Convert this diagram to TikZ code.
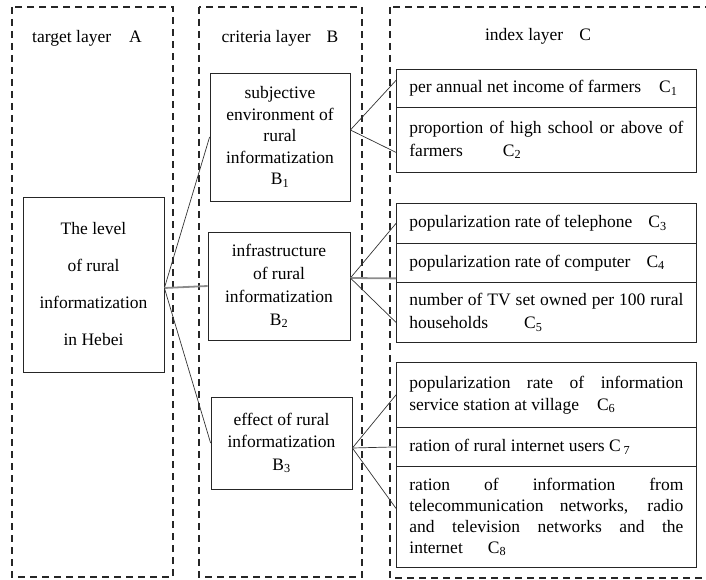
\documentclass[tikz,border=0pt]{standalone}
\usepackage{fontspec}
\setmainfont{Liberation Serif}
\begin{document}
\begin{tikzpicture}[x=1pt,y=-1pt,
  layer/.style={draw=black!85, dash pattern=on 7pt off 5pt, line width=1.3pt},
  cell/.style={draw=black!85, line width=0.8pt, anchor=north west, text width=274pt,
    inner xsep=13pt, inner ysep=0pt, align=justify, font=\fontsize{17.5}{23}\selectfont},
  bbox/.style={draw=black!85, line width=0.8pt, align=center, inner sep=0pt},
  title/.style={font=\fontsize{17.5}{21}\selectfont, inner sep=0pt},
  link/.style={line width=0.7pt, black!80},
  thicklink/.style={line width=1.8pt, black!45}]
\useasboundingbox (0,0) rectangle (706,580);
% layers
\draw[layer] (12,7) rectangle (173,577);
\draw[layer] (199,7) rectangle (362,577);
\draw[layer] (390,7) rectangle (712,578);
\node[title] (tA) at (87,38) {target layer\hspace{18pt}A};
\node[title] (tB) at (280,38) {criteria layer\hspace{16pt}B};
\node[title] (tC) at (538,36) {index layer\hspace{16pt}C};
% target
\node[bbox, minimum width=141pt, minimum height=175pt, font=\fontsize{17.5}{37}\selectfont] (A) at (93.5,284.5)
  {The level\\of rural\\informatization\\in Hebei};
% criteria
\node[bbox, minimum width=140pt, minimum height=128pt, font=\fontsize{17.5}{21.5}\selectfont] (B1) at (280,137)
  {subjective\\environment of\\rural\\informatization\\B\textsubscript{1}};
\node[bbox, minimum width=142pt, minimum height=108pt, font=\fontsize{17.5}{23}\selectfont] (B2) at (279,286)
  {infrastructure\\of rural\\informatization\\B\textsubscript{2}};
\node[bbox, minimum width=141pt, minimum height=92pt, font=\fontsize{17.5}{22.5}\selectfont] (B3) at (281.5,443)
  {effect of rural\\informatization\\B\textsubscript{3}};
% index
\node[cell, minimum height=38pt] (C1) at (396,69)
  {per annual net income of farmers\hspace{18pt}C\textsubscript{1}};
\node[cell, minimum height=65pt] (C2) at (396,107)
  {proportion of high school or above of\linebreak farmers\hspace{40pt}C\textsubscript{2}};
\node[cell, minimum height=40pt] (C3) at (396,203)
  {popularization rate of telephone\hspace{16pt}C\textsubscript{3}};
\node[cell, minimum height=39pt] (C4) at (396,243)
  {popularization rate of computer\hspace{16pt}C\textsubscript{4}};
\node[cell, minimum height=60pt] (C5) at (396,282)
  {number of TV set owned per 100 rural\linebreak households\hspace{36pt}C\textsubscript{5}};
\node[cell, minimum height=65pt, font=\fontsize{17.5}{22}\selectfont] (C6) at (396,362)
  {popularization rate of information\linebreak service station at village\hspace{18pt}C\textsubscript{6}};
\node[cell, minimum height=39pt] (C7) at (396,427)
  {ration of rural internet users C\,\textsubscript{7}};
\node[cell, minimum height=101pt, font=\fontsize{17.5}{21}\selectfont] (C8) at (396,466)
  {ration of information from\linebreak telecommunication networks, radio\linebreak and television networks and the\linebreak internet\hspace{25pt}C\textsubscript{8}};
% connectors
\draw[link] ([yshift=-3.5pt]A.east) -- (B1.west);
\draw[thicklink] ([yshift=-3.5pt]A.east) -- (B2.west);
\draw[link] ([yshift=-3.5pt]A.east) -- (B3.west);
\draw[link] ([yshift=7pt]B1.east) -- ([yshift=8pt]C1.west);
\draw[link] ([yshift=7pt]B1.east) -- ([yshift=-12.5pt]C2.west);
\draw[link] ([yshift=8pt]B2.east) -- (C3.west);
\draw[thicklink] ([yshift=8pt]B2.east) -- ([yshift=-15.5pt]C4.west);
\draw[link] ([yshift=8pt]B2.east) -- ([yshift=-10pt]C5.west);
\draw[link] ([yshift=-5pt]B3.east) -- (C6.west);
\draw[link] ([yshift=-5pt]B3.east) -- (C7.west);
\draw[link] ([yshift=-5pt]B3.east) -- ([yshift=8.5pt]C8.west);
\end{tikzpicture}
\end{document}
